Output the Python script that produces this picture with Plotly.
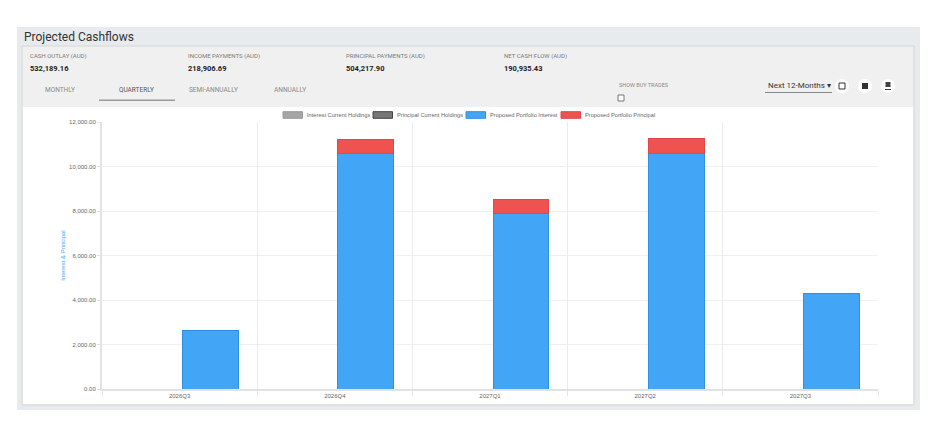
import plotly.graph_objects as go

# data
quarters = ["2026Q3", "2026Q4", "2027Q1", "2027Q2", "2027Q3"]
interest_current = [None, None, None, None, None]
principal_current = [None, None, None, None, None]
interest_proposed = [2650, 10570, 7880, 10600, 4300]
principal_proposed = [None, 625, 625, 640, None]
series_names = ["Interest Current Holdings", "Principal Current Holdings",
                "Proposed Portfolio Interest", "Proposed Portfolio Principal"]
series_colors = ["#a6a6a6", "#777777", "#42a5f5", "#ef5350"]
series_lines = ["#9a9a9a", "#444444", "#2f8fe0", "#e04848"]

summary_labels = ["CASH OUTLAY (AUD)", "INCOME PAYMENTS (AUD)",
                  "PRINCIPAL PAYMENTS (AUD)", "NET CASH FLOW (AUD)"]
summary_values = ["532,189.16", "218,906.69", "504,217.90", "190,935.43"]
tabs = ["MONTHLY", "QUARTERLY", "SEMI-ANNUALLY", "ANNUALLY"]

# page has an 8px body margin, so the figure is drawn from (8, 8)
PAGE_OFF = 8
W, H = 946 - PAGE_OFF, 427 - PAGE_OFF
L, R, T, B = 102, 878, 122, 389   # plot area in page pixels


def px(x):
    return (x - L) / (R - L)


def py(y):
    return (B - y) / (B - T)


def rect(x0, y0, x1, y1, fill, line=None, lw=0):
    return dict(type="rect", xref="paper", yref="paper", layer="below",
                x0=px(x0), x1=px(x1), y0=py(y1), y1=py(y0),
                fillcolor=fill, line=dict(color=line or fill, width=lw))


def text(x, y, s, size, color, anchor="left", font="Roboto"):
    return dict(xref="paper", yref="paper", x=px(x), y=py(y), text=s,
                showarrow=False, xanchor=anchor, yanchor="middle",
                font=dict(family=font, size=size, color=color))


series_values = [interest_current, principal_current,
                 interest_proposed, principal_proposed]
offsets = [-0.38, -0.38, 0.02, 0.02]

fig = go.Figure()
for name, vals, col, lc, off in zip(series_names, series_values, series_colors,
                                    series_lines, offsets):
    fig.add_trace(go.Bar(x=quarters, y=vals, name=name, showlegend=False,
                         marker=dict(color=col, line=dict(color=lc, width=1)),
                         offset=off, width=0.36))

shapes = [
    rect(17, 27, 920, 410, "#e8ebee"),
    rect(22, 46, 914, 405, "#f0f0f0", "#d6d6d6", 1),
    rect(23, 107, 913, 404, "#ffffff"),
    rect(99, 99.5, 175, 101, "#9a9a9a"),
    rect(618, 95, 624, 101, "#ffffff", "#777777", 1),
    rect(765, 92, 832, 92.8, "#666666"),
]
for cx in [842, 865, 888]:
    shapes.append(dict(type="circle", xref="paper", yref="paper", layer="below",
                       x0=px(cx - 7), x1=px(cx + 7), y0=py(93), y1=py(79),
                       fillcolor="#ffffff", line=dict(color="#ffffff", width=0)))
shapes.append(rect(839, 83, 845, 89, "#ffffff", "#333333", 1))
shapes.append(rect(862, 83, 868, 89, "#333333"))
shapes.append(rect(885.5, 82, 890.5, 87, "#444444"))
shapes.append(rect(885, 89, 891, 90, "#444444"))

annotations = [text(22, 37, "Projected Cashflows", 12, "#333333")]
for i, (lab, val) in enumerate(zip(summary_labels, summary_values)):
    x0 = 28 + 158 * i
    annotations.append(text(x0, 56, lab, 6, "#7a7a7a"))
    annotations.append(text(x0, 69, "<b>" + val + "</b>", 7.5, "#222222"))
for i, tab in enumerate(tabs):
    col = "#555555" if tab == "QUARTERLY" else "#888888"
    annotations.append(text(60 + 76.5 * i, 90, tab, 6.5, col, anchor="center"))
annotations.append(text(617, 85, "SHOW BUY TRADES", 5.5, "#888888"))
annotations.append(text(766, 86, "Next 12-Months \u25BE", 8, "#333333"))

# chart legend: small rectangles with labels
legend_x = [283, 373, 466, 561]
for lx, name, col, lc in zip(legend_x, series_names, series_colors, series_lines):
    shapes.append(rect(lx, 111.7, lx + 19.5, 118.3, col, lc, 1))
    annotations.append(text(lx + 22, 115, name, 5.7, "#666666",
                            font="Liberation Sans"))

fig.update_layout(
    width=W, height=H,
    margin=dict(l=L - PAGE_OFF, r=W + PAGE_OFF - R, t=T - PAGE_OFF,
                b=H + PAGE_OFF - B),
    barmode="stack",
    showlegend=False,
    paper_bgcolor="#ffffff",
    plot_bgcolor="rgba(0,0,0,0)",
    font=dict(family="Liberation Sans", size=6, color="#666666"),
    shapes=shapes,
    annotations=annotations,
    xaxis=dict(type="category", tickson="boundaries", showgrid=True,
               gridcolor="#ececec", ticks="outside", ticklen=5,
               tickcolor="#e6e6e6", showline=True, linecolor="#e2e2e2",
               linewidth=2, tickfont=dict(size=6, color="#666666")),
    yaxis=dict(range=[0, 12000], dtick=2000, tickformat=",.2f",
               showgrid=True, gridcolor="#f0f0f0", zeroline=False,
               ticks="outside", ticklen=3, tickcolor="#e2e2e2",
               showline=True, linecolor="#e2e2e2", linewidth=2,
               tickfont=dict(size=6, color="#666666"),
               title=dict(text="Interest & Principal", standoff=3,
                          font=dict(size=6, color="#42a5f5"))),
)

fig.write_html("out.html")
